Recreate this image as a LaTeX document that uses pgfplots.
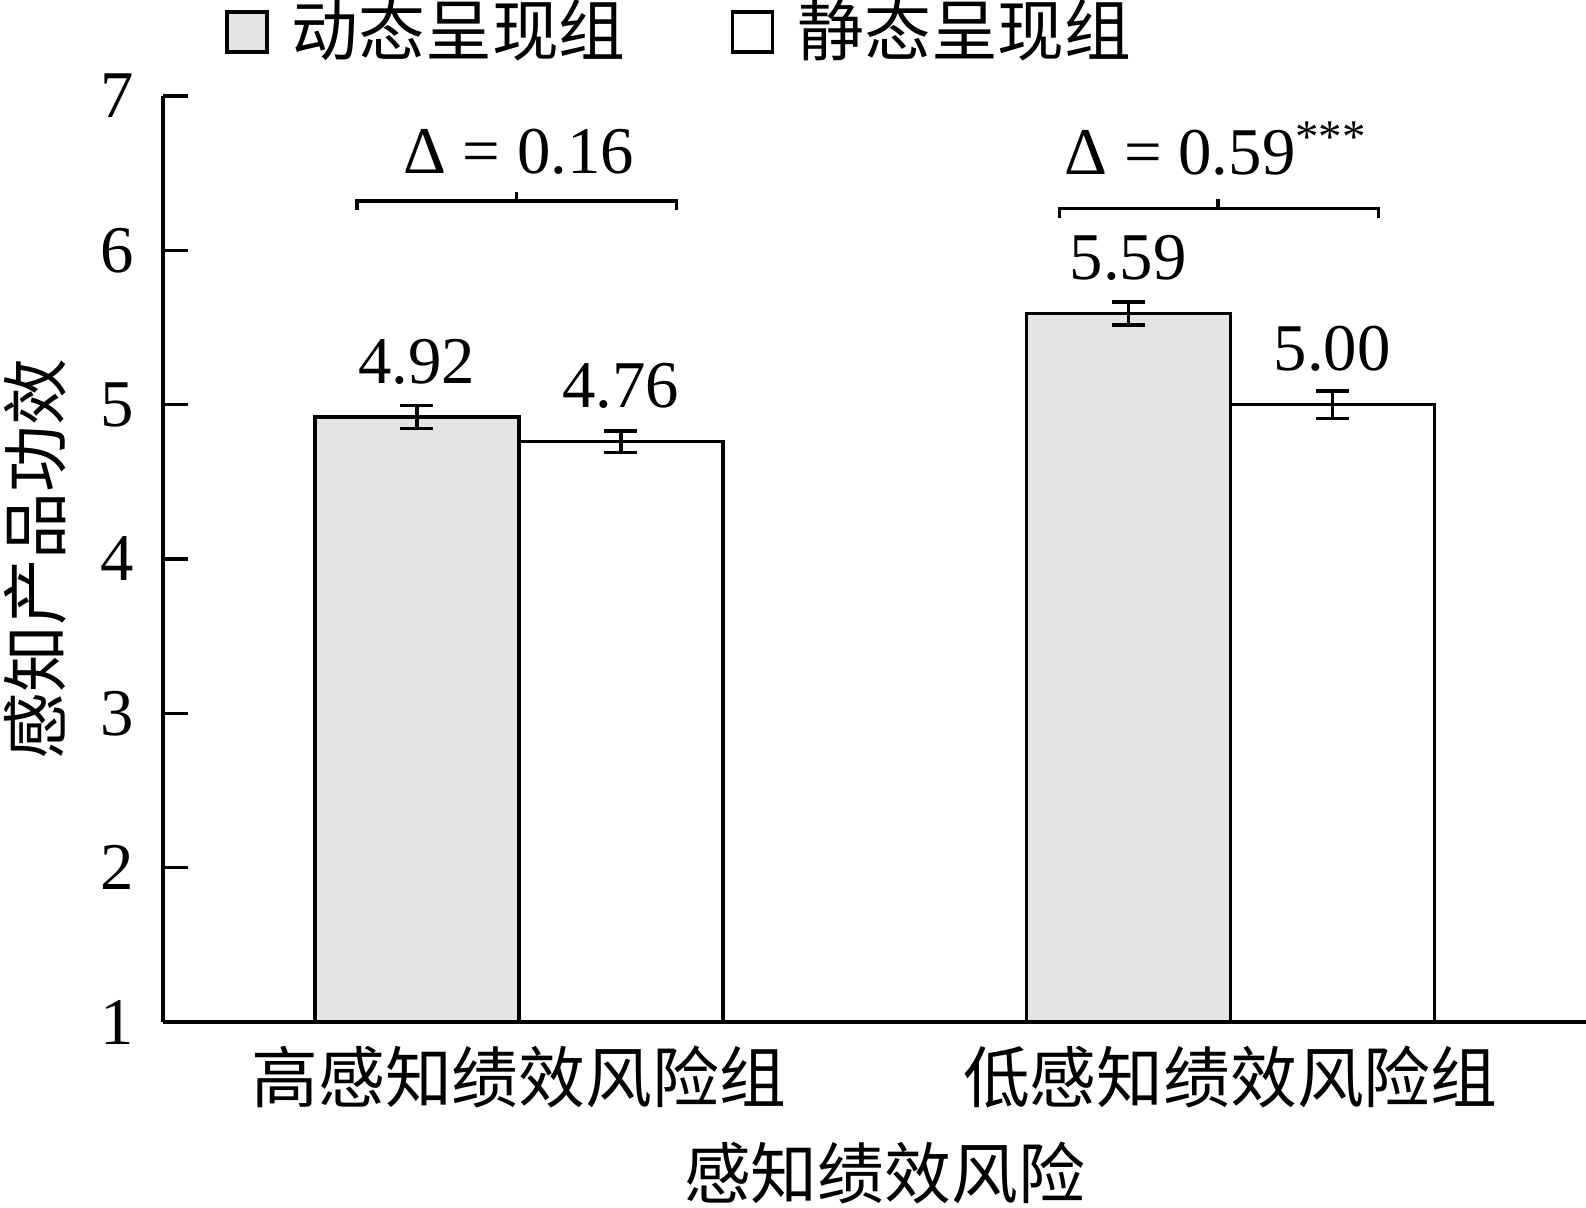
\documentclass[border=0pt]{standalone}
\usepackage{pgfplots}
\pgfplotsset{compat=1.18}
\usepackage{fontspec}
\setmainfont{Liberation Serif}
\newfontfamily\cjk{Noto Sans CJK SC}
\definecolor{barfill}{RGB}{230,227,228}

\begin{document}
\fontsize{19pt}{23pt}\selectfont
\begin{tikzpicture}
\begin{axis}[
    scale only axis,
    width=142.3mm, height=92.6mm,
    xmin=-0.5, xmax=1.5, ymin=1, ymax=7,
    axis x line=bottom, axis y line=left,
    axis line style={-, line width=1pt},
    ybar=0pt, bar width=20.4mm,
    legend image code/.code={\draw[#1, line width=1pt] (0mm,-2mm) rectangle (4mm,2mm);
        \path[draw=none, fill=none] (4mm,0) rectangle (5.8mm,0.1mm);},
    xtick={0,1},
    xticklabels={{\cjk 高感知绩效风险组},{\cjk 低感知绩效风险组}},
    xtick style={draw=none},
    xticklabel style={anchor=center, yshift=-5.5mm},
    ytick={1,2,3,4,5,6,7},
    tick align=inside, major tick length=2.5mm,
    ytick style={line width=1pt, black},
    yticklabel style={xshift=-0.6mm},
    /pgf/number format/assume math mode=true,
    xlabel={\cjk 感知绩效风险},
    xlabel style={at={(axis description cs:0.507,-0.163)}, anchor=center},
    ylabel={\cjk 感知产品功效},
    ylabel style={at={(axis description cs:-0.09,0.5)}, anchor=center},
    legend style={at={(axis description cs:0.0436,1.069)}, anchor=west,
        draw=none, fill=none, inner sep=0pt, outer sep=0pt,
        legend columns=2, legend cell align=left,
        /tikz/every even column/.append style={column sep=9.8mm}},
    nodes near coords={\pgfmathprintnumber[fixed,fixed zerofill,precision=2]{\pgfplotspointmeta}},
    nodes near coords style={anchor=base, yshift=3.4mm, black},
    error bars/y dir=both, error bars/y explicit,
    error bars/error bar style={line width=1pt, black},
    error bars/error mark options={rotate=90, mark size=1.65mm, line width=1pt, black},
]
\addplot[fill=barfill, draw=black, line width=1pt] coordinates {
    (0,4.92) +- (0,0.075)
    (1,5.59) +- (0,0.075)
};
\addlegendentry{\cjk 动态呈现组}
\addplot[fill=white, draw=black, line width=1pt] coordinates {
    (0,4.76) +- (0,0.07)
    (1,5.00) +- (0,0.09)
};
\addlegendentry{\cjk 静态呈现组}

% brackets and differences
\draw[line width=1pt] (axis cs:-0.227,6.26) -- (axis cs:-0.227,6.32) -- (axis cs:0.222,6.32) -- (axis cs:0.222,6.26);
\draw[line width=1pt] (axis cs:-0.003,6.32) -- (axis cs:-0.003,6.38);
\draw[line width=1pt] (axis cs:0.76,6.21) -- (axis cs:0.76,6.27) -- (axis cs:1.208,6.27) -- (axis cs:1.208,6.21);
\draw[line width=1pt] (axis cs:0.983,6.27) -- (axis cs:0.983,6.33);
\node[anchor=base] at (axis cs:0,6.50) {Δ = 0.16};
\node[anchor=base] at (axis cs:0.98,6.49) {Δ = 0.59\textsuperscript{***}};
\end{axis}
\pgfresetboundingbox
\useasboundingbox (-16.3mm,-18.5mm) rectangle (142.3mm,102.2mm);
\end{tikzpicture}
\end{document}
